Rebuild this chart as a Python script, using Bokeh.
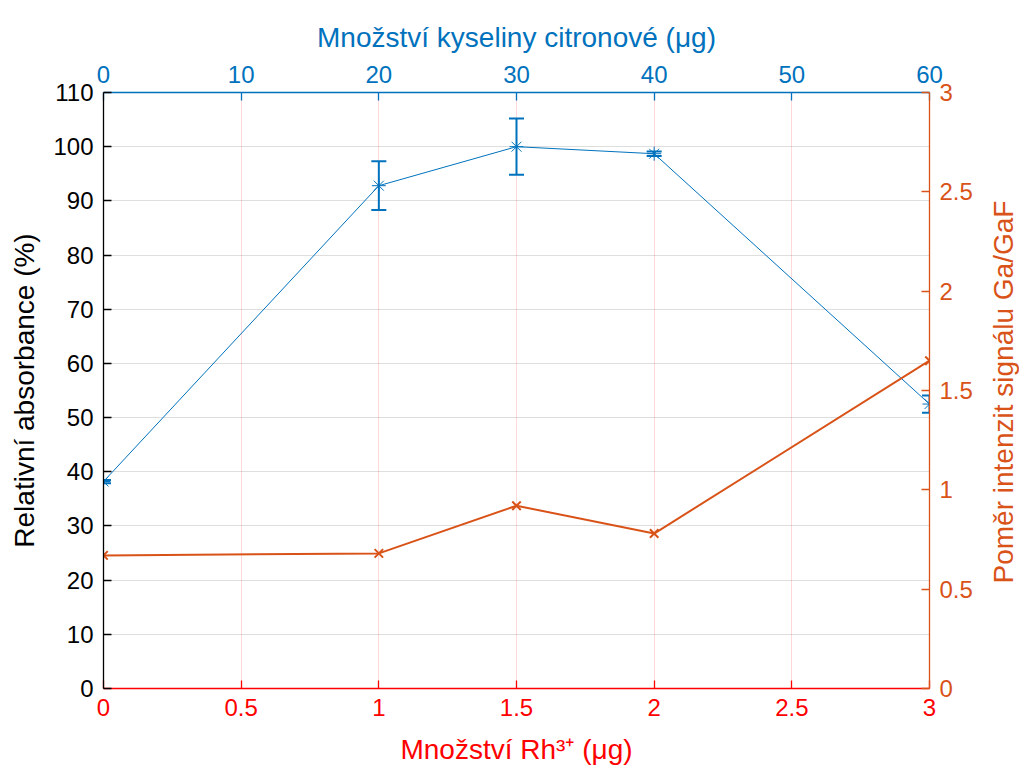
import math
from bokeh.plotting import figure
from bokeh.layouts import row
from bokeh.models import Range1d, LinearAxis, FixedTicker, ColumnDataSource, Whisker, TeeHead, Label
from bokeh.embed import file_html
from bokeh.resources import INLINE

# Data
citric_ug = [0, 20, 30, 40, 60]
rel_absorbance = [38.2, 92.8, 100.0, 98.7, 52.5]
abs_err = [0.3, 4.5, 5.2, 0.4, 1.6]

rh_ug = [0, 1, 1.5, 2, 3]
ratio_ga_gaf = [0.67, 0.68, 0.92, 0.78, 1.65]

bottom_ticks = [0, 0.5, 1, 1.5, 2, 2.5, 3]
bottom_labels = ["0", "0.5", "1", "1.5", "2", "2.5", "3"]
top_ticks = [0, 10, 20, 30, 40, 50, 60]
left_ticks = [0, 10, 20, 30, 40, 50, 60, 70, 80, 90, 100, 110]
right_ticks = [0, 0.5, 1, 1.5, 2, 2.5, 3]
right_labels = ["0", "0.5", "1", "1.5", "2", "2.5", "3"]

BLUE = "#0072BD"
ORANGE = "#D95319"
RED = "#FF0000"
FONT = "Liberation Sans"
TICK_SIZE = "24px"
LABEL_SIZE = "28px"

W_MAIN = 980
W_TOTAL, H_TOTAL = 1019, 776

p = figure(width=W_MAIN, height=H_TOTAL, output_backend="svg", toolbar_location=None,
           x_range=Range1d(0, 3), y_range=Range1d(0, 110),
           min_border_left=103, min_border_right=51, min_border_top=92, min_border_bottom=88)
p.extra_x_ranges = {"top": Range1d(0, 60)}
p.extra_y_ranges = {"right": Range1d(0, 3)}
p.outline_line_color = None
p.background_fill_color = "white"
p.border_fill_color = "white"

def style_axis(ax, color, label):
    ax.axis_line_color = color
    ax.axis_line_width = 1.3
    ax.major_tick_line_color = color
    ax.major_tick_line_width = 1.3
    ax.major_tick_in = 8
    ax.major_tick_out = 0
    ax.minor_tick_line_color = None
    ax.major_label_text_color = color
    ax.major_label_text_font = FONT
    ax.major_label_text_font_size = TICK_SIZE
    if label:
        ax.axis_label = label
    ax.axis_label_text_color = color
    ax.axis_label_text_font = FONT
    ax.axis_label_text_font_size = LABEL_SIZE
    ax.axis_label_text_font_style = "normal"

# bottom axis
xb = p.xaxis[0]
xb.ticker = FixedTicker(ticks=bottom_ticks)
xb.major_label_overrides = {t: l for t, l in zip(bottom_ticks, bottom_labels)}
style_axis(xb, RED, "Množství Rh³⁺ (μg)")
xb.major_label_standoff = 10
xb.axis_label_standoff = 15

# left axis
yl = p.yaxis[0]
yl.ticker = FixedTicker(ticks=left_ticks)
style_axis(yl, "black", "Relativní absorbance (%)")
yl.major_label_standoff = 10
yl.axis_label_standoff = 10

# top axis
xt = LinearAxis(x_range_name="top", ticker=FixedTicker(ticks=top_ticks))
style_axis(xt, BLUE, "Množství kyseliny citronové (μg)")
xt.major_label_standoff = 10
xt.axis_label_standoff = 10
p.add_layout(xt, "above")

# right axis (title drawn in the strip at the right so it reads bottom-to-top)
yr = LinearAxis(y_range_name="right", ticker=FixedTicker(ticks=right_ticks))
yr.major_label_overrides = {t: l for t, l in zip(right_ticks, right_labels)}
style_axis(yr, ORANGE, None)
yr.major_label_standoff = 10
p.add_layout(yr, "right")

# grids
p.xgrid.grid_line_color = "#FF0000"
p.xgrid.grid_line_alpha = 0.15
p.ygrid.grid_line_color = "#000000"
p.ygrid.grid_line_alpha = 0.13

# blue series
src = ColumnDataSource(dict(x=citric_ug, y=rel_absorbance,
                            lo=[v - e for v, e in zip(rel_absorbance, abs_err)],
                            hi=[v + e for v, e in zip(rel_absorbance, abs_err)]))
p.line("x", "y", source=src, x_range_name="top", color=BLUE, line_width=1)
w = Whisker(base="x", lower="lo", upper="hi", source=src, x_range_name="top",
            line_color=BLUE, line_width=2,
            upper_head=TeeHead(size=15, line_color=BLUE, line_width=2),
            lower_head=TeeHead(size=15, line_color=BLUE, line_width=2), dimension="height")
p.add_layout(w)
p.scatter("x", "y", source=src, x_range_name="top", marker="asterisk", size=14,
          line_color=BLUE, line_width=1)

# orange series
p.line(rh_ug, ratio_ga_gaf, y_range_name="right", color=ORANGE, line_width=2)
p.scatter(rh_ug, ratio_ga_gaf, y_range_name="right", marker="x", size=12,
          line_color=ORANGE, line_width=2)

# right title strip
right = figure(width=W_TOTAL - W_MAIN, height=H_TOTAL, output_backend="svg",
               toolbar_location=None, x_range=Range1d(0, W_TOTAL - W_MAIN),
               y_range=Range1d(0, H_TOTAL), x_axis_location=None, y_axis_location=None,
               min_border=0)
right.outline_line_color = None
right.grid.visible = False
right.background_fill_color = "white"
right.border_fill_color = "white"
right.add_layout(Label(x=23, y=H_TOTAL - 390, text="Poměr intenzit signálu Ga/GaF",
                       text_color=ORANGE, text_font=FONT, text_font_size=LABEL_SIZE,
                       text_align="center", text_baseline="middle", angle=math.pi / 2))

layout = row(p, right, spacing=0)

open("out.html", "w").write(file_html(layout, INLINE))
